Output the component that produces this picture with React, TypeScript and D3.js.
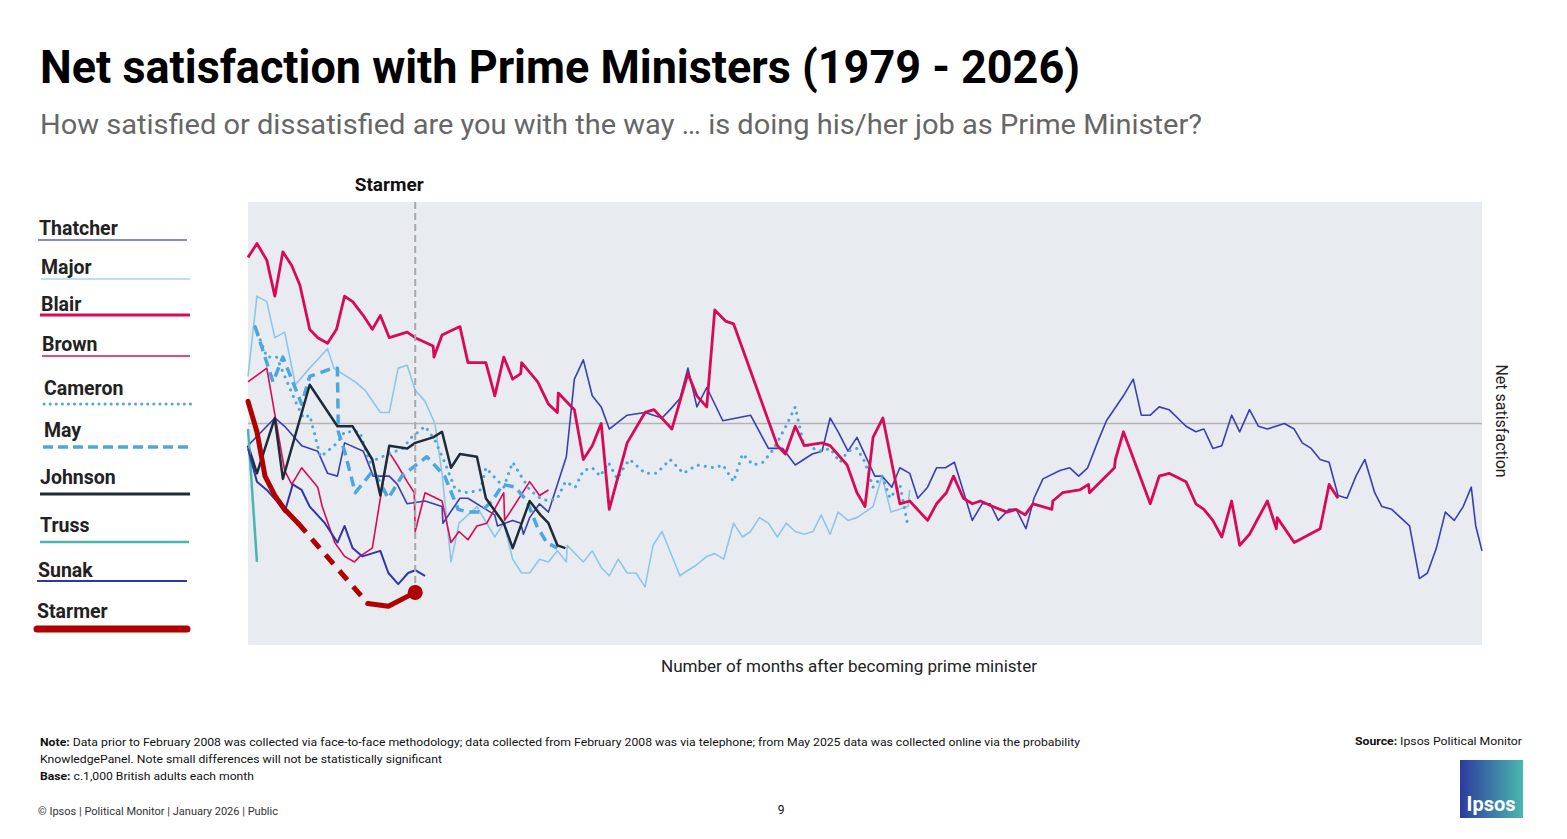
import * as d3 from "d3";

type Pt = [number, number]; // [months after taking office, net satisfaction]

const thatcher: Pt[] = [
  [0, -8], [3.0, 2], [4.1, -1], [6.0, -8], [7.8, -10], [8.9, -18], [10.0, -19], [10.8, -7], [12.9, -10], [14.0, -19],
  [15.8, -19], [16.7, -22], [17.8, -29], [19.8, -28], [21.7, -30], [21.8, -36], [23.7, -27], [24.6, -27], [26.6, -31],
  [27.6, -33], [27.9, -37], [29.6, -35], [30.5, -36], [30.8, -40], [31.5, -34], [32.6, -29], [33.6, -32], [34.6, -22],
  [35.6, -12], [36.5, 16], [37.5, 23], [38.5, 10], [39.5, 6], [40.4, -2], [42.4, 3], [44.4, 4], [46.3, 2], [47.2, 5],
  [48.3, 9], [49.2, 20], [50.2, 6], [51.3, 13], [53.1, 1], [56.2, 3], [58.2, -9], [59.8, -9], [61.2, -15], [63.1, -11],
  [64.2, -10], [65.1, 2], [66.0, -3], [67.1, -10], [68.1, -5], [70.1, -19], [70.9, -19], [72.0, -23], [72.9, -16],
  [74.0, -18], [74.9, -27], [76.0, -23], [77.0, -16], [78.0, -16], [79.0, -14], [81.0, -35], [82.1, -29], [83.0, -29],
  [83.9, -35], [85.1, -31], [85.9, -31], [87.0, -38], [87.9, -27], [88.9, -20], [90.8, -17], [91.9, -16], [92.9, -19],
  [93.9, -16], [95.1, -6], [96.0, 1], [97.9, 10], [99.0, 16], [99.9, 3], [100.9, 3], [101.9, 6], [103.0, 5], [104.9, -1],
  [106.0, -3], [106.9, -2], [107.9, -9], [108.9, -8], [110.0, 3], [110.9, -3], [112.0, 5], [113.0, -1], [114.0, -2],
  [115.9, 0], [117.0, -2], [117.9, -7], [118.9, -9], [119.9, -13], [120.9, -14], [121.9, -26], [122.9, -27], [123.9, -19],
  [124.9, -13], [126.0, -25], [126.8, -30], [127.9, -31], [129.9, -37], [131.0, -56], [131.9, -54], [132.9, -45],
  [133.9, -32], [134.9, -35], [135.9, -30], [136.8, -23], [137.3, -37], [138, -46],
];

const major: Pt[] = [
  [0, 17], [1.0, 46], [2.1, 44], [3.0, 31], [4.1, 33], [5.3, 14], [6.9, 20], [8.9, 27], [9.6, 20], [12.0, 15], [13.1, 12],
  [14.8, 4], [15.8, 4], [16.8, 20], [17.8, 21], [18.7, 12], [19.8, 8], [20.9, 0], [21.7, -18], [22.7, -50], [23.6, -36],
  [25.6, -30], [27.6, -41], [28.6, -36], [29.6, -49], [30.6, -54], [31.5, -54], [32.6, -49], [33.6, -50], [34.6, -46],
  [35.6, -50], [35.7, -44], [37.5, -50], [38.5, -46], [39.5, -52], [40.4, -55], [41.4, -49], [42.4, -54], [43.4, -54],
  [44.4, -59], [45.3, -44], [46.3, -39], [48.3, -55], [49.2, -53], [50.2, -51], [51.3, -48], [52.2, -47], [53.2, -49],
  [54.3, -36], [55.3, -41], [56.2, -39], [57.2, -34], [58.2, -36], [59.2, -41], [60.2, -36], [61.2, -39], [62.2, -40],
  [63.2, -39], [64.1, -33], [65.1, -40], [66.0, -32], [67.1, -35], [68.1, -34], [69.9, -30], [70.9, -19], [71.9, -32],
  [73.8, -30], [74.0, -24],
];

const blair: Pt[] = [
  [0, 60], [1.0, 65], [2.1, 59], [3.0, 46], [3.9, 62], [4.9, 57], [5.8, 50], [6.9, 34], [7.8, 31], [8.9, 29], [9.9, 34],
  [10.8, 46], [11.7, 44], [12.9, 39], [13.9, 34], [14.8, 39], [15.8, 31], [17.8, 33], [18.7, 31], [20.7, 28], [20.8, 24],
  [21.7, 32], [23.7, 35], [24.6, 22], [26.6, 22], [27.6, 10], [28.6, 24], [29.6, 16], [30.5, 18], [30.6, 22], [32.4, 15],
  [33.6, 7], [34.6, 4], [34.7, 11], [36.5, 5], [37.5, -13], [38.5, -8], [39.5, 0], [40.4, -31], [42.4, -7], [44.4, 4],
  [45.4, 5], [47.4, -2], [49.2, 18], [50.2, 10], [51.3, 6], [52.2, 41], [53.4, 37], [54.3, 36], [59.2, -8], [60.1, -11],
  [61.2, -1], [62.2, -8], [64.2, -7], [65.1, -8], [67.0, -15], [68.1, -25], [69.0, -30], [69.9, -5], [71.0, 2],
  [72.9, -29], [74.0, -28], [76.0, -35], [77.0, -29], [78.1, -25], [78.9, -19], [80.0, -27], [81.0, -29], [81.9, -28],
  [83.3, -30], [84.9, -32], [85.9, -31], [86.9, -33], [87.8, -29], [89.9, -31], [90.0, -28], [91.1, -25], [93.0, -24],
  [94.0, -22], [94.1, -25], [96.9, -16], [97.0, -13], [97.9, -3], [100.9, -29], [101.9, -19], [103.0, -18], [104.9, -21],
  [106.0, -29], [106.9, -31], [107.9, -35], [108.9, -41], [110.0, -28], [110.9, -44], [112.0, -40], [114.0, -28],
  [115.0, -38], [115.1, -34], [117.0, -43], [119.9, -38], [120.9, -22], [121.9, -27],
];

const brown: Pt[] = [
  [0, 15], [2.1, 20], [4.1, -17], [4.9, -22], [6.0, -16], [7.8, -23], [8.3, -30], [9.7, -43], [10.8, -48], [11.9, -50],
  [12.5, -48], [13.9, -45], [14.8, -27], [15.7, -10], [16.7, -15], [17.8, -21], [18.6, -25], [18.7, -39], [19.8, -25],
  [21.7, -28], [22.7, -43], [23.6, -39], [24.6, -42], [25.6, -37], [26.7, -36], [28.6, -25], [28.7, -35], [31.5, -21],
  [32.6, -26], [33.6, -24],
];

const cameron: Pt[] = [
  [0.8, 35], [2.1, 24], [3.2, 24], [5.3, 8], [6.2, 2], [6.9, 3], [8.1, -12], [8.9, -10], [10.0, -7], [10.8, -3], [12.5, -3],
  [13.6, -14], [15.0, -12], [17.3, -9], [18.3, -5], [19.8, -1], [20.9, -6], [22.0, -14], [23.2, -24], [24.6, -25],
  [26.0, -24], [26.6, -16], [28.6, -23], [29.6, -14], [31.5, -24], [32.7, -27], [33.6, -28], [34.6, -27], [35.5, -21],
  [36.6, -23], [37.5, -17], [38.5, -16], [39.4, -19], [40.3, -14], [41.3, -20], [42.2, -15], [42.7, -13], [44.4, -18],
  [45.7, -18], [47.2, -13], [48.7, -18], [50.2, -15], [52.2, -16], [53.1, -15], [54.3, -21], [55.3, -11], [56.5, -15],
  [57.6, -14], [58.6, -10], [59.5, -5], [60.3, 0], [61.2, 6], [62.1, -7], [63.2, -9], [64.2, -10], [65.1, -9],
  [66.2, -14], [67.1, -10], [68.1, -9], [69.0, -14], [69.9, -23], [70.9, -19], [71.8, -27], [72.9, -22], [73.8, -37],
];

const may: Pt[] = [
  [0.8, 35], [2.8, 15], [3.9, 24], [6.0, 7], [6.9, 17], [9.5, 20], [10.0, 20], [10.1, -3], [10.8, -10], [12.0, -25],
  [14.0, -17], [15.7, -27], [17.2, -19], [20.0, -12], [22.0, -19], [23.5, -31], [24.6, -32], [26.0, -32], [27.3, -28],
  [28.5, -22], [29.9, -23], [31.2, -28], [32.3, -37], [33.4, -43], [34.6, -45],
];

const johnson: Pt[] = [
  [0, -8], [1.0, -18], [3.0, 2], [3.9, -20], [6.9, 14], [10.0, -1], [11.7, -1], [13.9, -13], [14.8, -26], [15.8, -8],
  [17.8, -9], [18.7, -7], [20.7, -5], [21.7, -3], [22.7, -16], [23.7, -11], [25.6, -12], [26.6, -27], [28.6, -36],
  [29.6, -45], [31.5, -28], [32.7, -33], [33.6, -36], [34.6, -44], [35.5, -45],
];

const truss: Pt[] = [[0, -2], [1.0, -50]];

const sunak: Pt[] = [
  [0, -9], [1.0, -21], [2.1, -24], [3.2, -28], [4.1, -32], [5.0, -22], [6.0, -24], [6.9, -30], [8.6, -36], [10.0, -43],
  [10.8, -37], [11.7, -45], [12.8, -48], [14.8, -46], [15.7, -54], [16.8, -58], [17.9, -54], [18.7, -53], [19.8, -55],
];

// Starmer: gap in fieldwork between the two solid runs (drawn dashed)
const starmerA: Pt[] = [[0, 8], [1.0, -3], [1.9, -19], [3.0, -26], [4.1, -31], [5.6, -36]];
const starmerB: Pt[] = [[13.4, -65], [15.7, -66], [18.7, -61]];

type Series = { name: string; data: Pt[]; color: string; width: number; dash?: string; cap?: string };

const series: Series[] = [
  { name: "Major", data: major, color: "#8ec6ea", width: 1.6 },
  { name: "Thatcher", data: thatcher, color: "#3a3fb0", width: 1.6 },
  { name: "Brown", data: brown, color: "#d90a55", width: 1.6 },
  { name: "Cameron", data: cameron, color: "#4ea6dc", width: 3, dash: "0.1 7", cap: "round" },
  { name: "May", data: may, color: "#4ea6dc", width: 3.5, dash: "10 6" },
  { name: "Blair", data: blair, color: "#d90a55", width: 2.8 },
  { name: "Johnson", data: johnson, color: "#1e2b38", width: 2.5 },
  { name: "Truss", data: truss, color: "#4bb3b0", width: 2.5 },
  { name: "Sunak", data: sunak, color: "#3035a8", width: 2 },
];

const legend = [
  { name: "Thatcher", tx: 39, ty: 235, x1: 38, x2: 187, ly: 240, color: "#5b5fc7", w: 1.5 },
  { name: "Major", tx: 41, ty: 274, x1: 41, x2: 190, ly: 279, color: "#a9d3ee", w: 1.5 },
  { name: "Blair", tx: 41, ty: 311, x1: 40, x2: 190, ly: 315, color: "#d90a55", w: 3 },
  { name: "Brown", tx: 42, ty: 351, x1: 42, x2: 190, ly: 356, color: "#d90a55", w: 1.5 },
  { name: "Cameron", tx: 44, ty: 395, x1: 44, x2: 193, ly: 404, color: "#4ea6dc", w: 3, dash: "0.1 6", cap: "round" },
  { name: "May", tx: 44, ty: 437, x1: 43, x2: 189, ly: 447, color: "#4ea6dc", w: 3.5, dash: "10 5" },
  { name: "Johnson", tx: 40, ty: 484, x1: 40, x2: 190, ly: 494, color: "#1e2b38", w: 3 },
  { name: "Truss", tx: 40, ty: 532, x1: 40, x2: 189, ly: 542, color: "#4bb3b0", w: 2.5 },
  { name: "Sunak", tx: 38, ty: 577, x1: 37, x2: 187, ly: 581, color: "#3035a8", w: 2 },
  { name: "Starmer", tx: 37, ty: 618, x1: 37, x2: 187, ly: 629, color: "#b00000", w: 7, cap: "round" },
];

const FONT = "Roboto, 'Open Sans', sans-serif";

export default function App() {
  const W = 1567, H = 839;
  const plot = { x0: 248, x1: 1482, y0: 202, y1: 645 };
  const x = d3.scaleLinear().domain([0, 138]).range([plot.x0, plot.x1]);
  const y = d3.scaleLinear().domain([-80, 80]).range([plot.y1, plot.y0]);
  const line = d3.line<Pt>().x((d) => x(d[0])).y((d) => y(d[1]));
  const starmerNow = starmerB[starmerB.length - 1];
  const gap: Pt[] = [starmerA[starmerA.length - 1], starmerB[0]];

  return (
    <svg width={W} height={H} style={{ position: "absolute", left: 0, top: 0, background: "#fff" }} fontFamily={FONT}>
      <text x={40} y={83} fontSize={46} fontWeight={700} fill="#000" textLength={1040} lengthAdjust="spacingAndGlyphs">
        Net satisfaction with Prime Ministers (1979 - 2026)
      </text>
      <text x={40} y={134} fontSize={28} fill="#666" textLength={1162} lengthAdjust="spacingAndGlyphs">
        How satisfied or dissatisfied are you with the way … is doing his/her job as Prime Minister?
      </text>

      <rect x={plot.x0} y={plot.y0} width={plot.x1 - plot.x0} height={plot.y1 - plot.y0} fill="#e8ebf0" />
      <line x1={plot.x0} x2={plot.x1} y1={y(0)} y2={y(0)} stroke="#b4b4b4" strokeWidth={1.5} />

      {series.map((s) => (
        <path key={s.name} d={line(s.data) ?? ""} fill="none" stroke={s.color} strokeWidth={s.width}
          strokeDasharray={s.dash} strokeLinecap={(s.cap as any) ?? "butt"} strokeLinejoin="round" />
      ))}

      <line x1={x(starmerNow[0])} x2={x(starmerNow[0])} y1={plot.y0} y2={y(starmerNow[1])}
        stroke="#a8a8a8" strokeWidth={2} strokeDasharray="7 4" />
      <path d={line(starmerA) ?? ""} fill="none" stroke="#b00000" strokeWidth={5} strokeLinejoin="round" strokeLinecap="round" />
      <path d={line(gap) ?? ""} fill="none" stroke="#b00000" strokeWidth={5} strokeDasharray="12 9" />
      <path d={line(starmerB) ?? ""} fill="none" stroke="#b00000" strokeWidth={5} strokeLinejoin="round" strokeLinecap="round" />
      <circle cx={x(starmerNow[0])} cy={y(starmerNow[1])} r={7.5} fill="#b00000" />
      <text x={x(starmerNow[0]) - 26} y={191} fontSize={19} fontWeight={700} textAnchor="middle" fill="#111">Starmer</text>

      {legend.map((l) => (
        <g key={l.name}>
          <text x={l.tx} y={l.ty} fontSize={19.5} fontWeight={700} fill="#222">{l.name}</text>
          <line x1={l.x1} x2={l.x2} y1={l.ly} y2={l.ly} stroke={l.color} strokeWidth={l.w}
            strokeDasharray={l.dash} strokeLinecap={(l.cap as any) ?? "butt"} />
        </g>
      ))}

      <text x={849} y={672} fontSize={16} textAnchor="middle" fill="#222" textLength={376} lengthAdjust="spacingAndGlyphs">Number of months after becoming prime minister</text>
      <text transform="translate(1496,421) rotate(90)" fontSize={16} textAnchor="middle" fill="#222">Net satisfaction</text>

      <g fontSize={11} fill="#111">
        <text x={40} y={746} textLength={1040} lengthAdjust="spacingAndGlyphs"><tspan fontWeight={700}>Note: </tspan>Data prior to February 2008 was collected via face-to-face methodology; data collected from February 2008 was via telephone; from May 2025 data was collected online via the probability</text>
        <text x={40} y={763} textLength={402} lengthAdjust="spacingAndGlyphs">KnowledgePanel. Note small differences will not be statistically significant</text>
        <text x={40} y={780} textLength={214} lengthAdjust="spacingAndGlyphs"><tspan fontWeight={700}>Base: </tspan>c.1,000 British adults each month</text>
        <text x={1522} y={745} textAnchor="end" textLength={167} lengthAdjust="spacingAndGlyphs"><tspan fontWeight={700}>Source: </tspan>Ipsos Political Monitor</text>
        <text x={38} y={815} fontSize={10.5} fill="#333" textLength={240} lengthAdjust="spacingAndGlyphs">© Ipsos | Political Monitor | January 2026 | Public</text>
        <text x={781} y={814} fontSize={12} textAnchor="middle">9</text>
      </g>

      <defs>
        <linearGradient id="ipsos" x1="0" y1="0" x2="1" y2="0">
          <stop offset="0%" stopColor="#2d3a9e" />
          <stop offset="100%" stopColor="#4ab7ae" />
        </linearGradient>
      </defs>
      <rect x={1460} y={760} width={63} height={58} fill="url(#ipsos)" />
      <text x={1491} y={811} fontSize={20} fontWeight={700} fill="#fff" textAnchor="middle">Ipsos</text>
    </svg>
  );
}
